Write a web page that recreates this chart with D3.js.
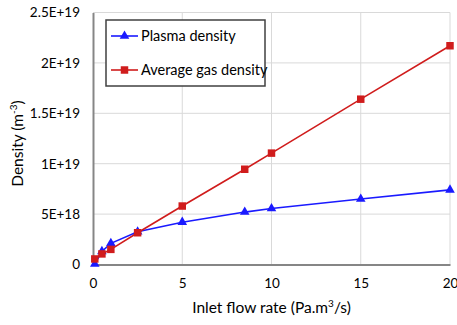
<!DOCTYPE html>
<html>
<head>
<meta charset="utf-8">
<script src="https://cdn.jsdelivr.net/npm/d3@7"></script>
<style>
  body { margin: 0; background: #fff; }
  text { font-family: Lato, "Open Sans", sans-serif; fill: #000; }
</style>
</head>
<body>
<svg id="chart" width="457" height="325"></svg>
<script>
// flow rate (Pa.m3/s)
const flowRate = [0.1, 0.5, 1, 2.5, 5, 8.5, 10, 15, 20];
// densities (m^-3)
const plasmaDensity = [0.05e18, 1.3e18, 2.1e18, 3.25e18, 4.2e18, 5.2e18, 5.55e18, 6.5e18, 7.4e18];
const gasDensity = [0.55e18, 1.05e18, 1.5e18, 3.15e18, 5.8e18, 9.45e18, 11.05e18, 16.4e18, 21.7e18];
const xTicks = [0, 5, 10, 15, 20];
const yTicks = [0, 5e18, 1e19, 1.5e19, 2e19, 2.5e19];
const yTickLabels = ['0', '5E+18', '1E+19', '1.5E+19', '2E+19', '2.5E+19'];
const seriesNames = ['Plasma density', 'Average gas density'];

let svg = d3.select('#chart');
let margin = {l: 93, r: 7, t: 12.5, b: 60.5};
let size = {w: 457, h: 325};
let cw = size.w - margin.l - margin.r, ch = size.h - margin.t - margin.b;

let canvas = svg.append('g').attr('transform', `translate(${margin.l}, ${margin.t})`);

let xScale = d3.scaleLinear().domain([0, 20]).range([0, cw]);
let yScale = d3.scaleLinear().domain([0, 2.5e19]).range([ch, 0]);

// grid
canvas.selectAll('.gridY').data(yTicks.slice(1)).join('line')
    .attr('x1', 0).attr('x2', cw)
    .attr('y1', d => yScale(d)).attr('y2', d => yScale(d))
    .attr('stroke', '#d9d9d9').attr('stroke-width', 1);
canvas.selectAll('.gridX').data(xTicks.slice(1)).join('line')
    .attr('y1', 0).attr('y2', ch)
    .attr('x1', d => xScale(d)).attr('x2', d => xScale(d))
    .attr('stroke', '#d9d9d9').attr('stroke-width', 1);

// axes
let axisX = d3.axisBottom(xScale).tickValues(xTicks).tickSize(0).tickPadding(14).tickFormat(d3.format('d'));
let axisY = d3.axisLeft(yScale).tickValues(yTicks).tickSize(0).tickPadding(13)
    .tickFormat((d, i) => yTickLabels[i]);

let gx = canvas.append('g').attr('transform', `translate(0, ${ch})`).call(axisX);
let gy = canvas.append('g').call(axisY);
[gx, gy].forEach(g => {
    g.select('.domain').attr('stroke', '#868686').attr('stroke-width', 2);
    g.selectAll('text').style('font-size', '13.5px').style('font-family', 'Lato, sans-serif').attr('fill', '#000');
});

// lines
let series = [
    {name: seriesNames[0], values: plasmaDensity, color: '#1a1aff', shape: d3.symbolTriangle},
    {name: seriesNames[1], values: gasDensity, color: '#d01c1c', shape: d3.symbolSquare}
];
let line = d3.line().x((d, i) => xScale(flowRate[i])).y(d => yScale(d));

series.forEach(s => {
    canvas.append('path').datum(s.values)
        .attr('d', line).attr('fill', 'none')
        .attr('stroke', s.color).attr('stroke-width', 1.6);
    canvas.selectAll(null).data(s.values).join('path')
        .attr('transform', (d, i) => `translate(${xScale(flowRate[i])}, ${yScale(d)})`)
        .attr('d', d3.symbol().type(s.shape).size(s.shape === d3.symbolSquare ? 56 : 40))
        .attr('fill', s.color);
});

// legend
let legend = svg.append('g').attr('transform', 'translate(106, 20)');
legend.append('rect').attr('width', 159).attr('height', 66)
    .attr('fill', '#fff').attr('stroke', '#404040').attr('stroke-width', 1.5);
series.forEach((s, i) => {
    let y = 16 + i * 34;
    legend.append('line').attr('x1', 5).attr('x2', 32).attr('y1', y).attr('y2', y)
        .attr('stroke', s.color).attr('stroke-width', 1.6);
    legend.append('path').attr('transform', `translate(18.5, ${y})`)
        .attr('d', d3.symbol().type(s.shape).size(s.shape === d3.symbolSquare ? 56 : 40))
        .attr('fill', s.color);
    legend.append('text').attr('x', 35).attr('y', y).attr('dy', '0.35em')
        .style('font-size', '14.5px').text(s.name);
});

// axis titles
svg.append('text')
    .attr('x', margin.l + cw / 2).attr('y', 313)
    .attr('text-anchor', 'middle').style('font-size', '15.5px')
    .html('Inlet flow rate (Pa.m<tspan dy="-6" font-size="10px">3</tspan><tspan dy="6">/s)</tspan>');

svg.append('text')
    .attr('transform', `translate(23, 143.5) rotate(-90)`)
    .attr('text-anchor', 'middle').style('font-size', '15.5px')
    .html('Density (m<tspan dy="-6" font-size="10px">-3</tspan><tspan dy="6">)</tspan>');
</script>
</body>
</html>
